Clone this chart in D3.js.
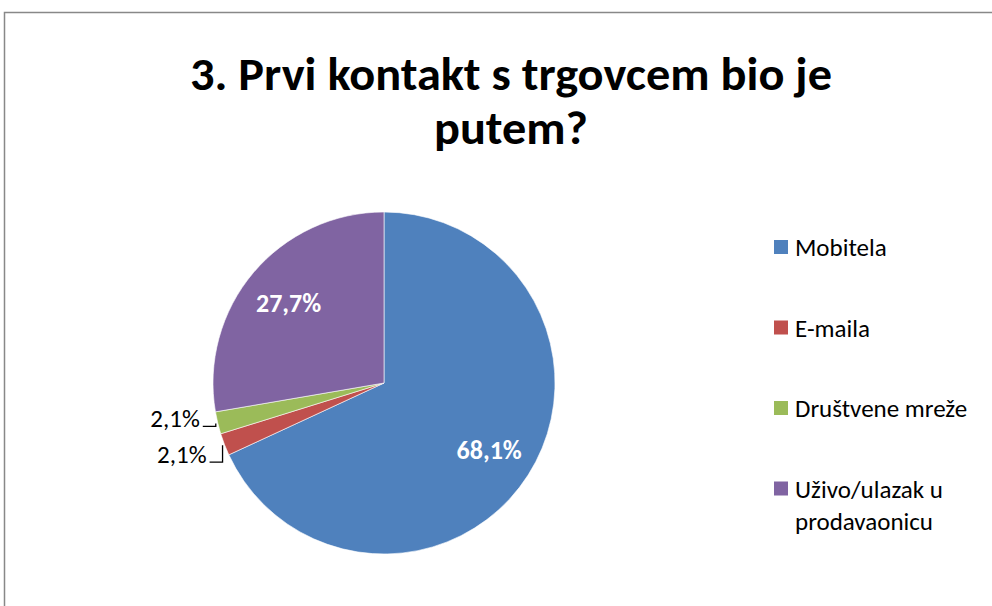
<!DOCTYPE html>
<html>
<head>
<meta charset="utf-8">
<script src="https://cdn.jsdelivr.net/npm/d3@7"></script>
<style>
  body { margin: 0; background: #fff; }
  text { font-family: Carlito, Calibri, Lato, sans-serif; }
</style>
</head>
<body>
<div id="chart"></div>
<script>
// Chart size and layout
const WIDTH = 992;
const HEIGHT = 606;
const CENTER = { x: 384, y: 383 };
const RADIUS = 171;

// Data
const categories = ["Mobitela", "E-maila", "Društvene mreže", "Uživo/ulazak u prodavaonicu"];
const legendLines = [["Mobitela"], ["E-maila"], ["Društvene mreže"], ["Uživo/ulazak u", "prodavaonicu"]];
const values = [68.1, 2.1, 2.1, 27.7];
const labels = ["68,1%", "2,1%", "2,1%", "27,7%"];
const colors = ["#4F81BD", "#C0504D", "#9BBB59", "#8064A2"];
const titleLines = ["3. Prvi kontakt s trgovcem bio je", "putem?"];
const titleWidths = [642, 154];

const svg = d3.select("#chart").append("svg")
  .attr("width", WIDTH)
  .attr("height", HEIGHT);

// chart frame
svg.append("rect")
  .attr("x", 4.5)
  .attr("y", 12.5)
  .attr("width", WIDTH + 10)
  .attr("height", HEIGHT + 10)
  .attr("fill", "#fff")
  .attr("stroke", "#888888")
  .attr("stroke-width", 1.5);

// title, two lines, squeezed a bit to the reference widths
svg.selectAll(".title")
  .data(titleLines)
  .enter()
  .append("text")
  .attr("class", "title")
  .attr("x", 511)
  .attr("y", (_, i) => 90 + i * 54)
  .attr("text-anchor", "middle")
  .attr("font-weight", "bold")
  .attr("font-size", 46)
  .attr("fill", "#000")
  .attr("textLength", (_, i) => titleWidths[i])
  .attr("lengthAdjust", "spacingAndGlyphs")
  .text((d) => d);

const pie = d3.pie().sort(null).value((d) => d);
const arcs = pie(values);

const arc = d3.arc().innerRadius(0).outerRadius(RADIUS);
const labelArc = d3.arc().innerRadius(RADIUS * 0.73).outerRadius(RADIUS * 0.73);
const edgeArc = d3.arc().innerRadius(RADIUS + 2).outerRadius(RADIUS + 2);

const group = svg.append("g")
  .attr("transform", `translate(${CENTER.x}, ${CENTER.y})`);

group.selectAll("path")
  .data(arcs)
  .enter()
  .append("path")
  .attr("d", arc)
  .attr("fill", (_, i) => colors[i])
  .attr("stroke", "#ffffff")
  .attr("stroke-width", 0.6);

// inside labels for the big slices
group.selectAll(".inner-label")
  .data(arcs.filter((d) => d.value > 10))
  .enter()
  .append("text")
  .attr("class", "inner-label")
  .attr("transform", (d) => `translate(${labelArc.centroid(d)})`)
  .attr("text-anchor", "middle")
  .attr("dy", "0.35em")
  .attr("font-weight", "bold")
  .attr("font-size", 26)
  .attr("fill", "#fff")
  .text((d) => labels[d.index]);

// outside labels with leader lines for the small slices
const leaderDrop = { 1: 17, 2: 3 };
const small = arcs.filter((d) => d.value <= 10);

small.forEach((d) => {
  const [px, py] = edgeArc.centroid(d);
  const ly = py + leaderDrop[d.index];
  group.append("path")
    .attr("d", `M${px},${py} L${px},${ly} L${px - 13},${ly}`)
    .attr("fill", "none")
    .attr("stroke", "#000")
    .attr("stroke-width", 1.3);
  group.append("text")
    .attr("x", px - 16)
    .attr("y", ly + 1)
    .attr("text-anchor", "end")
    .attr("font-size", 25)
    .attr("fill", "#000")
    .text(labels[d.index]);
});

// legend
const legend = svg.append("g")
  .attr("transform", "translate(774, 247)");

const items = legend.selectAll(".item")
  .data(categories)
  .enter()
  .append("g")
  .attr("class", "item")
  .attr("transform", (_, i) => `translate(0, ${i * 80.5})`);

items.append("rect")
  .attr("x", 0)
  .attr("y", -7)
  .attr("width", 14)
  .attr("height", 14)
  .attr("fill", (_, i) => colors[i]);

items.append("text")
  .attr("font-size", 25)
  .attr("fill", "#000")
  .selectAll("tspan")
  .data((_, i) => legendLines[i])
  .enter()
  .append("tspan")
  .attr("x", 21)
  .attr("y", (_, j) => 9 + j * 32)
  .text((t) => t);
</script>
</body>
</html>
